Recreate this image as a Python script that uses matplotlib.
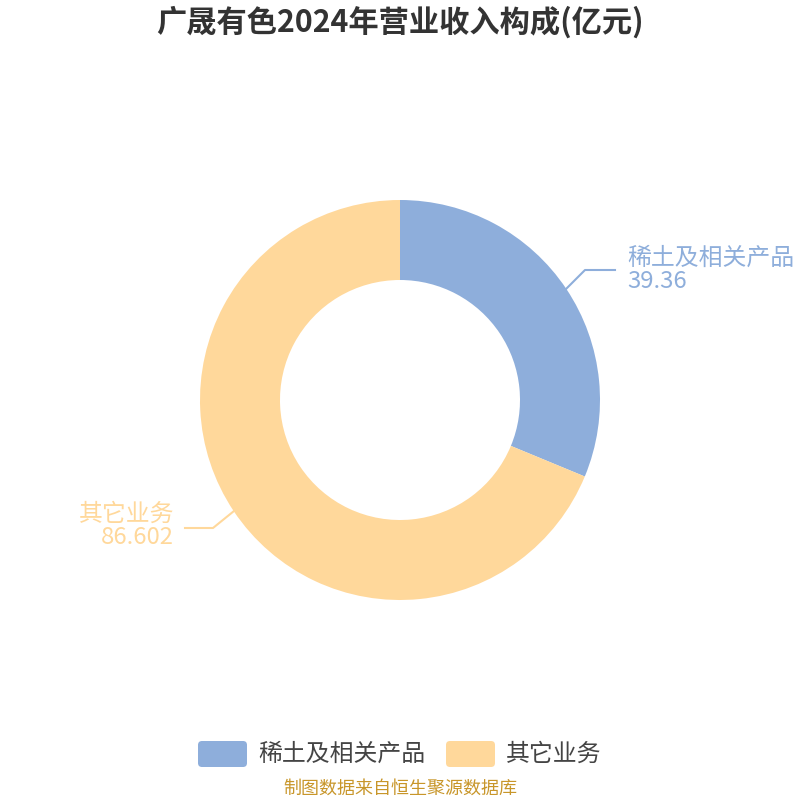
import matplotlib.pyplot as plt
from matplotlib.patches import FancyBboxPatch

plt.rcParams['font.family'] = ['Noto Sans CJK SC', 'DejaVu Sans']

title = '广晟有色2024年营业收入构成(亿元)'
categories = ['稀土及相关产品', '其它业务']
values = [39.36, 86.602]
value_labels = ['39.36', '86.602']
colors = ['#8eaedb', '#ffd89b']
source = '制图数据来自恒生聚源数据库'

fig = plt.figure(figsize=(8, 8), dpi=100)
ax = fig.add_axes([0, 0, 1, 1])
ax.set_xlim(0, 800)
ax.set_ylim(0, 800)
ax.axis('off')

ax.pie(values, colors=colors, startangle=90, counterclock=False,
       center=(400, 400), radius=200,
       wedgeprops=dict(width=80, edgecolor='none'))
ax.set_aspect('equal')
ax.set_xlim(0, 800)
ax.set_ylim(0, 800)

# leader lines and labels (pixel coords, y from top)
def py(y):
    return 800 - y

ax.plot([566, 585, 615], [py(289), py(270), py(270)], color=colors[0], lw=1.5)
ax.text(627, py(258), categories[0], color=colors[0], fontsize=17.2, va='center', ha='left')
ax.text(627, py(282), value_labels[0], color=colors[0], fontsize=17.2, va='center', ha='left')

ax.plot([234, 213, 185], [py(511), py(528), py(528)], color=colors[1], lw=1.5)
ax.text(174, py(514), categories[1], color=colors[1], fontsize=17.2, va='center', ha='right')
ax.text(174, py(538), value_labels[1], color=colors[1], fontsize=17.2, va='center', ha='right')

ax.text(400, py(22), title, color='#333333', fontsize=21.8, fontweight='bold',
        ha='center', va='center')

# legend
for x0, tx, name, c in [(198, 258, categories[0], colors[0]), (446, 506, categories[1], colors[1])]:
    ax.add_patch(FancyBboxPatch((x0 + 4, py(767) + 4), 41, 18,
                                boxstyle='round,pad=4', fc=c, ec='none'))
    ax.text(tx, py(754), name, color='#444444', fontsize=17.2, ha='left', va='center')

ax.text(400, py(789), source, color='#c8962a', fontsize=13, ha='center', va='center')

fig.savefig('out.png', dpi=100)
